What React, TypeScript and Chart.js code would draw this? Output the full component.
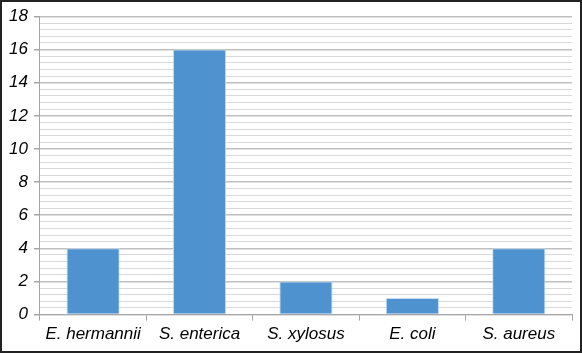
import React, { useEffect, useRef } from "react";
import { Chart, registerables } from "chart.js";

Chart.register(...registerables);

const categories = ["E. hermannii", "S. enterica", "S. xylosus", "E. coli", "S. aureus"];
const counts = [4, 16, 2, 1, 4];
const yMin = 0;
const yMax = 18;
const yMajorStep = 2;
const yMinorStep = 0.4;

const isMajor = (v: number) => Math.abs(v / yMajorStep - Math.round(v / yMajorStep)) < 1e-6;

export default function App() {
  const ref = useRef<HTMLCanvasElement | null>(null);
  useEffect(() => {
    if (!ref.current) return;
    const font = { family: "'Liberation Sans', Arial, sans-serif", size: 17, style: "italic" as const };
    const yFont = { ...font, lineHeight: 1 };
    const chart = new Chart(ref.current, {
      type: "bar",
      data: {
        labels: categories,
        datasets: [
          {
            data: counts,
            backgroundColor: "#4f92d0",
            borderColor: "#c6dcf0",
            borderWidth: 1,
            barPercentage: 0.5,
            categoryPercentage: 1,
          },
        ],
      },
      options: {
        animation: false,
        responsive: true,
        maintainAspectRatio: false,
        layout: { padding: { top: 0, right: 8, left: 1, bottom: 4 } },
        plugins: { legend: { display: false }, tooltip: { enabled: false } },
        scales: {
          x: {
            grid: {
              offset: true,
              drawOnChartArea: false,
              drawTicks: true,
              tickLength: 6,
              color: "#a6a6a6",
            },
            border: { color: "#a6a6a6", width: 1 },
            ticks: { color: "#000", font, padding: 3, maxRotation: 0 },
          },
          y: {
            min: yMin,
            max: yMax,
            grid: {
              color: (ctx: any) => (isMajor(ctx.tick.value) ? "#bfbfbf" : "#d9d9d9"),
              lineWidth: (ctx: any) => (isMajor(ctx.tick.value) ? 1.5 : 1),
              tickColor: (ctx: any) => (isMajor(ctx.tick.value) ? "#a6a6a6" : "rgba(0,0,0,0)"),
              tickLength: 6,
            },
            border: { color: "#a6a6a6", width: 1 },
            ticks: {
              stepSize: yMinorStep,
              autoSkip: false,
              color: "#000",
              font: yFont,
              padding: 6,
              callback: (v: any) => (isMajor(Number(v)) ? String(Math.round(Number(v))) : ""),
            },
          },
        },
      },
    });
    return () => chart.destroy();
  }, []);
  return (
    <div
      style={{
        position: "fixed",
        top: 0,
        left: 0,
        width: 582,
        height: 353,
        boxSizing: "border-box",
        border: "2px solid #222",
        background: "#fff",
      }}
    >
      <div style={{ position: "relative", width: "100%", height: "100%" }}>
        <canvas ref={ref} />
      </div>
    </div>
  );
}
